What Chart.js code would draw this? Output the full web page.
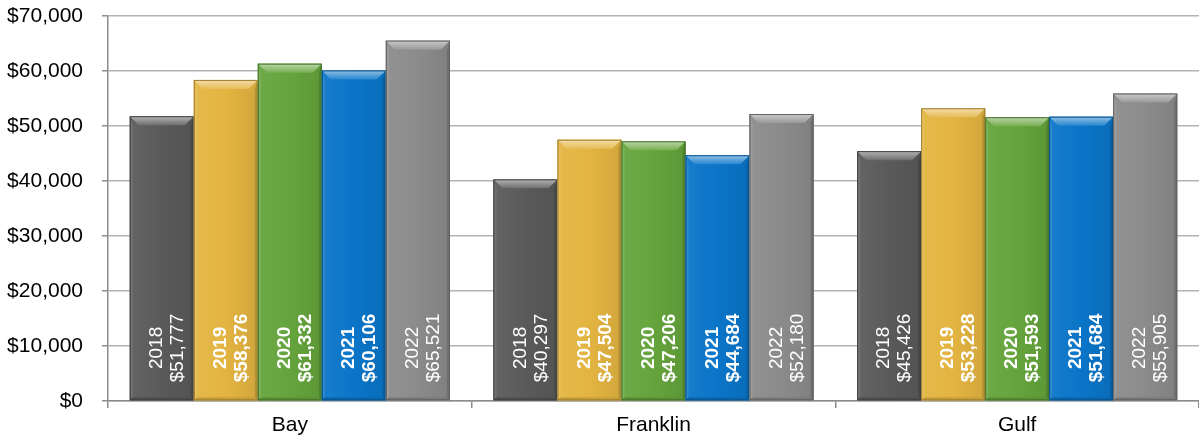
<!DOCTYPE html>
<html>
<head>
<meta charset="utf-8">
<script src="https://cdn.jsdelivr.net/npm/chart.js@4"></script>
<style>
  html, body { margin: 0; padding: 0; background: #fff; }
  #wrap { width: 1199px; height: 439px; }
</style>
</head>
<body>
<div id="wrap"><canvas id="canvas"></canvas></div>
<script>
var COUNTIES = ["Bay", "Franklin", "Gulf"];
var YEARS = ["2018", "2019", "2020", "2021", "2022"];
var INCOME_2018 = [51777, 40297, 45426];
var INCOME_2019 = [58376, 47504, 53228];
var INCOME_2020 = [61332, 47206, 51593];
var INCOME_2021 = [60106, 44684, 51684];
var INCOME_2022 = [65521, 52180, 55905];
var Y_MIN = 0, Y_MAX = 70000, Y_STEP = 10000;

var SERIES = [INCOME_2018, INCOME_2019, INCOME_2020, INCOME_2021, INCOME_2022];
var COLORS = ["#5a5a5a", "#e3b441", "#65a43c", "#0a75c8", "#8b8b8b"];
var BOLD = [false, true, true, true, false];
var FONT = '"Liberation Sans", Arial, sans-serif';

function shade(hex, amt) {
  var n = parseInt(hex.slice(1), 16), r = n >> 16, g = (n >> 8) & 255, b = n & 255;
  function f(c) { return Math.round(amt < 0 ? c * (1 + amt) : c + (255 - c) * amt); }
  return 'rgb(' + f(r) + ',' + f(g) + ',' + f(b) + ')';
}

var money = function(v) { return '$' + v.toLocaleString('en-US'); };

// bevel look + labels inside the base of each bar
var barDecor = {
  id: 'barDecor',
  afterDatasetsDraw: function(chart) {
    var ctx = chart.ctx;
    chart.data.datasets.forEach(function(ds, i) {
      var meta = chart.getDatasetMeta(i);
      var col = COLORS[i];
      meta.data.forEach(function(bar, j) {
        var l = bar.x - bar.width / 2, r = bar.x + bar.width / 2;
        var t = bar.y, b = bar.base, d = 9;
        ctx.save();
        // soft horizontal shading
        var hg = ctx.createLinearGradient(l, 0, r, 0);
        hg.addColorStop(0, shade(col, 0.06));
        hg.addColorStop(0.5, col);
        hg.addColorStop(1, shade(col, -0.08));
        ctx.fillStyle = hg;
        ctx.fillRect(l, t, bar.width, b - t);
        // left edge
        ctx.fillStyle = shade(col, 0.15);
        ctx.beginPath();
        ctx.moveTo(l, t); ctx.lineTo(l + 3, t + d); ctx.lineTo(l + 3, b - 3); ctx.lineTo(l, b);
        ctx.closePath(); ctx.fill();
        // right edge
        ctx.fillStyle = shade(col, -0.2);
        ctx.beginPath();
        ctx.moveTo(r, t); ctx.lineTo(r - 3, t + d); ctx.lineTo(r - 3, b - 3); ctx.lineTo(r, b);
        ctx.closePath(); ctx.fill();
        // bottom edge
        ctx.fillStyle = shade(col, -0.12);
        ctx.beginPath();
        ctx.moveTo(l, b); ctx.lineTo(l + 3, b - 3); ctx.lineTo(r - 3, b - 3); ctx.lineTo(r, b);
        ctx.closePath(); ctx.fill();
        // top bevel
        var g = ctx.createLinearGradient(0, t, 0, t + d);
        g.addColorStop(0, shade(col, 0.55));
        g.addColorStop(1, shade(col, 0.12));
        ctx.fillStyle = g;
        ctx.beginPath();
        ctx.moveTo(l, t); ctx.lineTo(r, t); ctx.lineTo(r - d, t + d); ctx.lineTo(l + d, t + d);
        ctx.closePath(); ctx.fill();
        // outline
        ctx.strokeStyle = shade(col, -0.3);
        ctx.lineWidth = 1;
        ctx.strokeRect(l + 0.5, t + 0.5, bar.width - 1, b - t - 1);

        // label
        var lines = [ds.label, money(ds.data[j])];
        ctx.font = (BOLD[i] ? 'bold ' : '') + '19px ' + FONT;
        var w = Math.max(ctx.measureText(lines[0]).width, ctx.measureText(lines[1]).width);
        ctx.translate(bar.x, b - 18 - w / 2);
        ctx.rotate(-Math.PI / 2);
        ctx.fillStyle = '#ffffff';
        ctx.textAlign = 'center';
        ctx.textBaseline = 'middle';
        ctx.fillText(lines[0], 0, -5);
        ctx.fillText(lines[1], 0, 16);
        ctx.restore();
      });
    });
  }
};

var datasets = YEARS.map(function(y, i) {
  return {
    label: y,
    data: SERIES[i],
    backgroundColor: COLORS[i],
    borderWidth: 0,
    categoryPercentage: 0.88,
    barPercentage: 1.0
  };
});

window.onload = function() {
  var ctx = document.getElementById('canvas').getContext('2d');
  window.myBar = new Chart(ctx, {
    type: 'bar',
    data: { labels: COUNTIES, datasets: datasets },
    plugins: [barDecor],
    options: {
      responsive: true,
      maintainAspectRatio: false,
      animation: false,
      layout: { padding: { top: 16, right: 0, bottom: 0, left: 0 } },
      plugins: {
        legend: { display: false },
        tooltip: { enabled: false }
      },
      scales: {
        x: {
          grid: { drawOnChartArea: false, offset: true, tickLength: 7, tickColor: '#8c8c8c', lineWidth: 1.5 },
          border: { color: '#8c8c8c', width: 1.5 },
          ticks: { color: '#000', font: { family: FONT, size: 21 }, padding: 5 },
          afterFit: function(s) { s.height = 38; s.paddingLeft = 0; s.paddingRight = 0; }
        },
        y: {
          min: Y_MIN, max: Y_MAX,
          grid: { color: '#b3b3b3', lineWidth: 1.5, tickLength: 6, tickColor: '#8c8c8c' },
          border: { color: '#8c8c8c', width: 1.5 },
          ticks: {
            stepSize: Y_STEP, color: '#000', padding: 19,
            font: { family: FONT, size: 21 },
            callback: function(v) { return money(v); }
          },
          afterFit: function(s) { s.width = 108; s.paddingTop = 0; s.paddingBottom = 0; }
        }
      }
    }
  });
};
</script>
</body>
</html>
